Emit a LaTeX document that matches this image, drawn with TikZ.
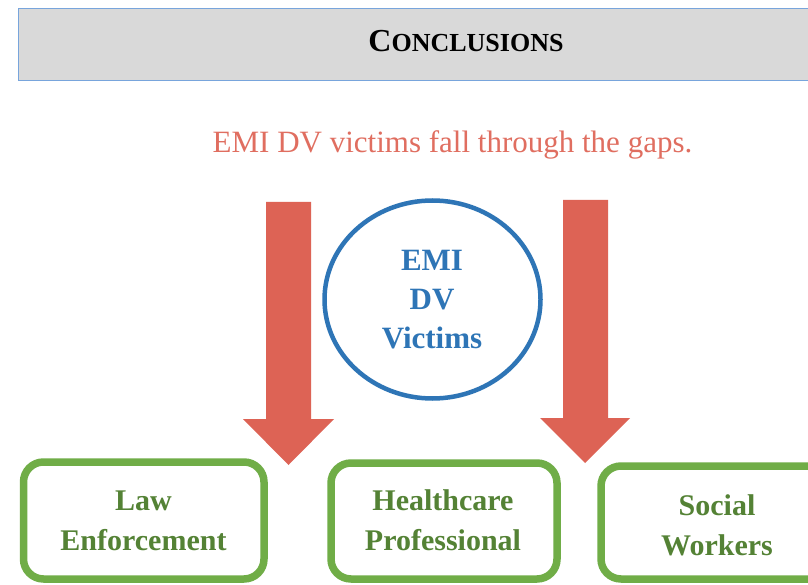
\documentclass[tikz,border=0pt]{standalone}
\usepackage{fontspec}
\setmainfont{Liberation Serif}
\usetikzlibrary{shapes.geometric}
\definecolor{hdrfill}{RGB}{217,217,217}
\definecolor{hdrline}{RGB}{120,165,220}
\definecolor{arrowred}{RGB}{221,99,85}
\definecolor{textred}{RGB}{224,110,96}
\definecolor{circblue}{RGB}{46,117,182}
\definecolor{boxgreen}{RGB}{112,173,71}
\definecolor{textgreen}{RGB}{84,130,53}
\tikzset{
  greenbox/.style={draw=boxgreen, line width=7.5pt, rounded corners=20pt, fill=white, rectangle, inner sep=0pt},
  greentext/.style={text=textgreen, font=\fontsize{30}{40}\selectfont\bfseries, align=center, anchor=north, inner sep=0pt},
  bigarrow/.style={fill=arrowred, draw=none}
}
\begin{document}
\begin{tikzpicture}[x=1pt,y=-1pt]
\useasboundingbox (0,0) rectangle (808,585);
\fill[white] (0,0) rectangle (808,585);
% header
\node[draw=hdrline, line width=1.2pt, fill=hdrfill, rectangle, anchor=north west, minimum width=800pt, minimum height=72pt, inner sep=0pt] (header) at (18,8) {};
\node[anchor=base, inner sep=0pt, font=\bfseries] (title) at (466,52) {{\fontsize{32}{32}\selectfont C}{\fontsize{26}{26}\selectfont ONCLUSIONS}};
% subtitle
\node[anchor=base, inner sep=0pt, text=textred, font=\fontsize{31}{31}\selectfont] (subtitle) at (452.5,153) {EMI DV victims fall through the gaps.};
% arrows
\fill[bigarrow] (266,202) -- (311,202) -- (311,419) -- (334,419) -- (288.5,465) -- (243,419) -- (266,419) -- cycle;
\fill[bigarrow] (563,200) -- (608,200) -- (608,418) -- (630,418) -- (585,463) -- (540,418) -- (563,418) -- cycle;
% circle
\node[ellipse, draw=circblue, line width=4.5pt, minimum width=216pt, minimum height=198pt, inner sep=0pt] (victims) at (432.5,299.5) {};
\node[text=circblue, font=\fontsize{31}{39}\selectfont\bfseries, align=center, anchor=north, inner sep=0pt] (victimstext) at (432,250) {EMI\\DV\\Victims};
% boxes
\node[greenbox, minimum width=240.5pt, minimum height=117pt] (law) at (143.75,520.5) {};
\node[greenbox, minimum width=226pt, minimum height=116pt] (health) at (444,521) {};
\node[greenbox, minimum width=232pt, minimum height=113pt] (social) at (717,522.5) {};
\node[greentext] (lawtext) at (143.5,491) {Law\\Enforcement};
\node[greentext] (healthtext) at (443,489) {Healthcare\\Professional};
\node[greentext] (socialtext) at (717,494) {Social\\Workers};
\end{tikzpicture}
\end{document}
